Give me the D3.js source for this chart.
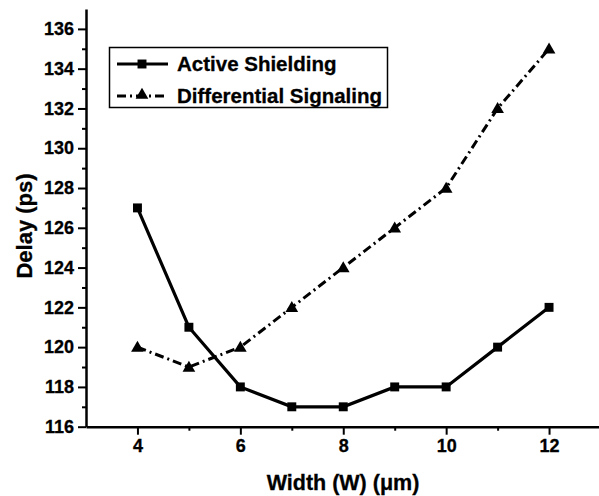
<!DOCTYPE html>
<html>
<head>
<meta charset="utf-8">
<script src="https://cdn.jsdelivr.net/npm/d3@7"></script>
<style>
body { margin: 0; background: #fff; }
text { font-family: Arial, "Liberation Sans", sans-serif; font-weight: bold; fill: #000; stroke: #000; stroke-width: 0.3px; }
</style>
</head>
<body>
<div id="content"></div>
<script>
// values
var widths = [4, 5, 6, 7, 8, 9, 10, 11, 12];
var activeShielding = [127, 121, 118, 117, 117, 118, 118, 120, 122];
var differentialSignaling = [120, 119, 120, 122, 124, 126, 128, 132, 135];
var seriesNames = ["Active Shielding", "Differential Signaling"];
var xMajorTicks = [4, 6, 8, 10, 12];
var xMinorTicks = [5, 7, 9, 11];
var yMajorTicks = [116, 118, 120, 122, 124, 126, 128, 130, 132, 134, 136];
var yMinorTicks = [117, 119, 121, 123, 125, 127, 129, 131, 133, 135];

var width = 599, height = 496;

var svg = d3.select("#content").append("svg")
    .attr("width", width)
    .attr("height", height);

var x = d3.scaleLinear().domain([3, 13]).range([86, 600.5]);
var y = d3.scaleLinear().domain([116, 137]).range([426.7, 9]);

//axes
var xAxis = svg.append("g").attr("transform", "translate(0," + y(116) + ")");
xAxis.call(d3.axisBottom(x).tickValues(xMajorTicks).tickSize(8).tickPadding(5).tickSizeOuter(0));
xAxis.append("g").call(d3.axisBottom(x).tickValues(xMinorTicks).tickSize(4).tickFormat("").tickSizeOuter(0))
    .select(".domain").remove();

var yAxis = svg.append("g").attr("transform", "translate(" + x(3) + ",0)");
yAxis.call(d3.axisLeft(y).tickValues(yMajorTicks).tickSize(8).tickPadding(4).tickSizeOuter(0));
yAxis.append("g").call(d3.axisLeft(y).tickValues(yMinorTicks).tickSize(4).tickFormat("").tickSizeOuter(0))
    .select(".domain").remove();

svg.selectAll(".domain").attr("stroke", "#000").attr("stroke-width", 2.5);
svg.selectAll(".tick line").attr("stroke", "#000").attr("stroke-width", 2);
svg.selectAll(".tick text")
    .style("font-family", "Arial, 'Liberation Sans', sans-serif")
    .style("font-weight", "bold")
    .style("font-size", "18px")
    .attr("fill", "#000");

//axis titles
svg.append("text")
    .attr("x", 343)
    .attr("y", 490)
    .attr("text-anchor", "middle")
    .style("font-size", "21.5px")
    .text("Width (W) (\u03bcm)");

svg.append("text")
    .attr("transform", "translate(32,226) rotate(-90)")
    .attr("text-anchor", "middle")
    .style("font-size", "22px")
    .text("Delay (ps)");

//lines
var line = d3.line()
    .x(function(d) { return x(d[0]); })
    .y(function(d) { return y(d[1]); });

var activeData = widths.map(function(w, i) { return [w, activeShielding[i]]; });
var diffData = widths.map(function(w, i) { return [w, differentialSignaling[i]]; });

svg.append("path")
    .datum(diffData)
    .attr("d", line)
    .attr("fill", "none")
    .attr("stroke", "#000")
    .attr("stroke-width", 3)
    .attr("stroke-dasharray", "9,4,2,4");

svg.append("path")
    .datum(activeData)
    .attr("d", line)
    .attr("fill", "none")
    .attr("stroke", "#000")
    .attr("stroke-width", 3.2);

var square = d3.symbol().type(d3.symbolSquare).size(80);
var triangle = d3.symbol().type(d3.symbolTriangle).size(70);

svg.selectAll(".sq").data(activeData).enter().append("path")
    .attr("class", "sq")
    .attr("d", square)
    .attr("transform", function(d) { return "translate(" + x(d[0]) + "," + y(d[1]) + ")"; })
    .attr("fill", "#000");

svg.selectAll(".tri").data(diffData).enter().append("path")
    .attr("class", "tri")
    .attr("d", triangle)
    .attr("transform", function(d) { return "translate(" + x(d[0]) + "," + (y(d[1]) + 1) + ")"; })
    .attr("fill", "#000");

//legend
var legend = svg.append("g");
legend.append("rect")
    .attr("x", 109.5).attr("y", 47.5)
    .attr("width", 278).attr("height", 60)
    .attr("fill", "#fff")
    .attr("stroke", "#000")
    .attr("stroke-width", 1.5);

var rows = [64, 96];
legend.append("line")
    .attr("x1", 117).attr("x2", 168).attr("y1", rows[0]).attr("y2", rows[0])
    .attr("stroke", "#000").attr("stroke-width", 3.2);
legend.append("path").attr("d", square)
    .attr("transform", "translate(142," + rows[0] + ")");
legend.append("line")
    .attr("x1", 117).attr("x2", 168).attr("y1", rows[1]).attr("y2", rows[1])
    .attr("stroke", "#000").attr("stroke-width", 3)
    .attr("stroke-dasharray", "9,4,2,4");
legend.append("path").attr("d", triangle)
    .attr("transform", "translate(142," + (rows[1] - 1) + ")");

legend.selectAll(".lab").data(seriesNames).enter().append("text")
    .attr("x", 177)
    .attr("y", function(d, i) { return rows[i] + 7; })
    .style("font-size", "20.5px")
    .text(function(d) { return d; });
</script>
</body>
</html>
